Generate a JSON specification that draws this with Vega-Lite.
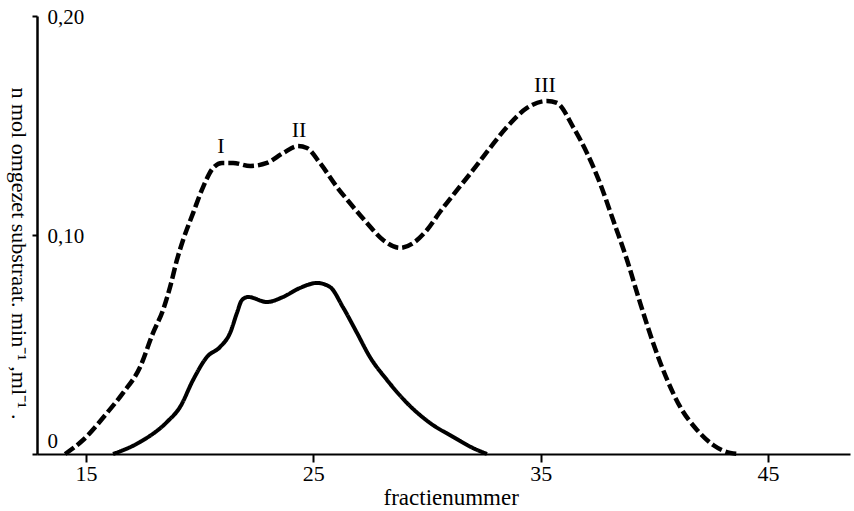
{
  "$schema": "https://vega.github.io/schema/vega-lite/v6.json",
  "width": 813,
  "height": 438,
  "autosize": {"type": "none"},
  "padding": {"left": 37, "top": 16, "right": 4, "bottom": 57},
  "background": "white",
  "config": {"view": {"stroke": null}, "font": "Liberation Serif"},
  "datasets": {
    "curves": [
      {"series": "totaal", "fractie": 14.08, "waarde": 0},
      {"series": "totaal", "fractie": 14.87, "waarde": 0.0064},
      {"series": "totaal", "fractie": 15.92, "waarde": 0.0187},
      {"series": "totaal", "fractie": 16.63, "waarde": 0.0279},
      {"series": "totaal", "fractie": 17.38, "waarde": 0.0397},
      {"series": "totaal", "fractie": 17.95, "waarde": 0.0553},
      {"series": "totaal", "fractie": 18.39, "waarde": 0.0658},
      {"series": "totaal", "fractie": 18.70, "waarde": 0.0763},
      {"series": "totaal", "fractie": 19.00, "waarde": 0.0886},
      {"series": "totaal", "fractie": 19.27, "waarde": 0.0977},
      {"series": "totaal", "fractie": 19.71, "waarde": 0.1100},
      {"series": "totaal", "fractie": 20.15, "waarde": 0.1219},
      {"series": "totaal", "fractie": 20.59, "waarde": 0.1306},
      {"series": "totaal", "fractie": 20.98, "waarde": 0.1329},
      {"series": "totaal", "fractie": 21.47, "waarde": 0.1329},
      {"series": "totaal", "fractie": 22.22, "waarde": 0.1315},
      {"series": "totaal", "fractie": 22.96, "waarde": 0.1329},
      {"series": "totaal", "fractie": 23.67, "waarde": 0.1374},
      {"series": "totaal", "fractie": 24.33, "waarde": 0.1406},
      {"series": "totaal", "fractie": 24.72, "waarde": 0.1397},
      {"series": "totaal", "fractie": 25.29, "waarde": 0.1329},
      {"series": "totaal", "fractie": 26.04, "waarde": 0.1219},
      {"series": "totaal", "fractie": 26.61, "waarde": 0.1146},
      {"series": "totaal", "fractie": 27.36, "waarde": 0.1055},
      {"series": "totaal", "fractie": 28.07, "waarde": 0.0977},
      {"series": "totaal", "fractie": 28.81, "waarde": 0.0941},
      {"series": "totaal", "fractie": 29.39, "waarde": 0.0963},
      {"series": "totaal", "fractie": 30.00, "waarde": 0.1023},
      {"series": "totaal", "fractie": 30.57, "waarde": 0.1105},
      {"series": "totaal", "fractie": 31.32, "waarde": 0.1205},
      {"series": "totaal", "fractie": 32.03, "waarde": 0.1297},
      {"series": "totaal", "fractie": 32.77, "waarde": 0.1397},
      {"series": "totaal", "fractie": 33.52, "waarde": 0.1493},
      {"series": "totaal", "fractie": 34.40, "waarde": 0.1580},
      {"series": "totaal", "fractie": 35.28, "waarde": 0.1612},
      {"series": "totaal", "fractie": 35.72, "waarde": 0.1603},
      {"series": "totaal", "fractie": 36.43, "waarde": 0.1493},
      {"series": "totaal", "fractie": 37.04, "waarde": 0.1374},
      {"series": "totaal", "fractie": 37.61, "waarde": 0.1237},
      {"series": "totaal", "fractie": 38.19, "waarde": 0.1068},
      {"series": "totaal", "fractie": 38.80, "waarde": 0.0886},
      {"series": "totaal", "fractie": 39.38, "waarde": 0.0689},
      {"series": "totaal", "fractie": 39.95, "waarde": 0.0507},
      {"series": "totaal", "fractie": 40.57, "waarde": 0.0338},
      {"series": "totaal", "fractie": 41.14, "waarde": 0.0215},
      {"series": "totaal", "fractie": 41.88, "waarde": 0.0110},
      {"series": "totaal", "fractie": 42.59, "waarde": 0.0041},
      {"series": "totaal", "fractie": 43.34, "waarde": 0.0005},
      {"series": "totaal", "fractie": 43.77, "waarde": 0},
      {"series": "deel", "fractie": 16.19, "waarde": 0},
      {"series": "deel", "fractie": 17.38, "waarde": 0.0055},
      {"series": "deel", "fractie": 18.56, "waarde": 0.0146},
      {"series": "deel", "fractie": 19.14, "waarde": 0.0215},
      {"series": "deel", "fractie": 19.71, "waarde": 0.0338},
      {"series": "deel", "fractie": 20.32, "waarde": 0.0443},
      {"series": "deel", "fractie": 20.90, "waarde": 0.0489},
      {"series": "deel", "fractie": 21.34, "waarde": 0.0553},
      {"series": "deel", "fractie": 21.64, "waarde": 0.0644},
      {"series": "deel", "fractie": 21.86, "waarde": 0.0703},
      {"series": "deel", "fractie": 22.13, "waarde": 0.0717},
      {"series": "deel", "fractie": 22.96, "waarde": 0.0694},
      {"series": "deel", "fractie": 23.67, "waarde": 0.0717},
      {"series": "deel", "fractie": 24.41, "waarde": 0.0758},
      {"series": "deel", "fractie": 25.16, "waarde": 0.0781},
      {"series": "deel", "fractie": 25.73, "waarde": 0.0763},
      {"series": "deel", "fractie": 26.30, "waarde": 0.0671},
      {"series": "deel", "fractie": 26.92, "waarde": 0.0553},
      {"series": "deel", "fractie": 27.49, "waarde": 0.0443},
      {"series": "deel", "fractie": 28.24, "waarde": 0.0338},
      {"series": "deel", "fractie": 29.12, "waarde": 0.0233},
      {"series": "deel", "fractie": 30.13, "waarde": 0.0142},
      {"series": "deel", "fractie": 31.15, "waarde": 0.0078},
      {"series": "deel", "fractie": 32.03, "waarde": 0.0027},
      {"series": "deel", "fractie": 32.64, "waarde": 0}
    ],
    "labels": [
      {"label": "I", "fractie": 20.94, "waarde": 0.1406},
      {"label": "II", "fractie": 24.37, "waarde": 0.1479},
      {"label": "III", "fractie": 35.19, "waarde": 0.1685}
    ]
  },
  "layer": [
    {
      "data": {"name": "curves"},
      "mark": {"type": "line", "interpolate": "monotone", "color": "black", "strokeCap": "butt"},
      "encoding": {
        "x": {
          "field": "fractie",
          "type": "quantitative",
          "scale": {"domain": [12.844, 48.61], "nice": false, "zero": false},
          "axis": {
            "values": [15, 25, 35, 45],
            "title": "fractienummer",
            "grid": false,
            "domainColor": "black",
            "domainWidth": 2,
            "tickColor": "black",
            "tickWidth": 2,
            "tickSize": 8,
            "labelFontSize": 22,
            "labelColor": "black",
            "labelPadding": 1,
            "labelFlush": false,
            "titleFontSize": 23,
            "titleFontWeight": "normal",
            "titleColor": "black",
            "titleAnchor": "start",
            "titleAlign": "left",
            "titleX": 346,
            "titleY": 50,
            "titleBaseline": "alphabetic"
          }
        },
        "y": {
          "field": "waarde",
          "type": "quantitative",
          "scale": {"domain": [0, 0.2], "nice": false},
          "axis": {
            "values": [0, 0.1, 0.2],
            "labelExpr": "datum.value == 0 ? '0' : replace(format(datum.value, '.2f'), '.', ',')",
            "grid": false,
            "domainColor": "black",
            "domainWidth": 2.5,
            "tickColor": "black",
            "tickWidth": 2,
            "tickSize": 5,
            "labelFontSize": 21,
            "labelColor": "black",
            "labelAlign": "left",
            "labelPadding": -15,
            "labelFlush": false,
            "labelBaseline": {"condition": {"test": "datum.value == 0", "value": "alphabetic"}, "value": "middle"},
            "labelOffset": {"condition": {"test": "datum.value == 0", "value": -7}, "value": 1},
            "title": "n mol omgezet substraat. min⁻¹ ,ml⁻¹ .",
            "titleFontSize": 22,
            "titleFontWeight": "normal",
            "titleColor": "black",
            "titleAngle": 90,
            "titleAnchor": "start",
            "titleAlign": "left",
            "titleBaseline": "alphabetic",
            "titleX": -26,
            "titleY": 71
          }
        },
        "strokeDash": {
          "field": "series",
          "type": "nominal",
          "scale": {"domain": ["totaal", "deel"], "range": [[11, 4], [1, 0]]},
          "legend": null
        },
        "strokeWidth": {
          "field": "series",
          "type": "nominal",
          "scale": {"domain": ["totaal", "deel"], "range": [4.5, 4]},
          "legend": null
        }
      }
    },
    {
      "data": {"name": "labels"},
      "mark": {"type": "text", "fontSize": 22, "font": "Liberation Serif", "baseline": "middle", "align": "center", "color": "black"},
      "encoding": {
        "x": {"field": "fractie", "type": "quantitative"},
        "y": {"field": "waarde", "type": "quantitative"},
        "text": {"field": "label"}
      }
    }
  ]
}
